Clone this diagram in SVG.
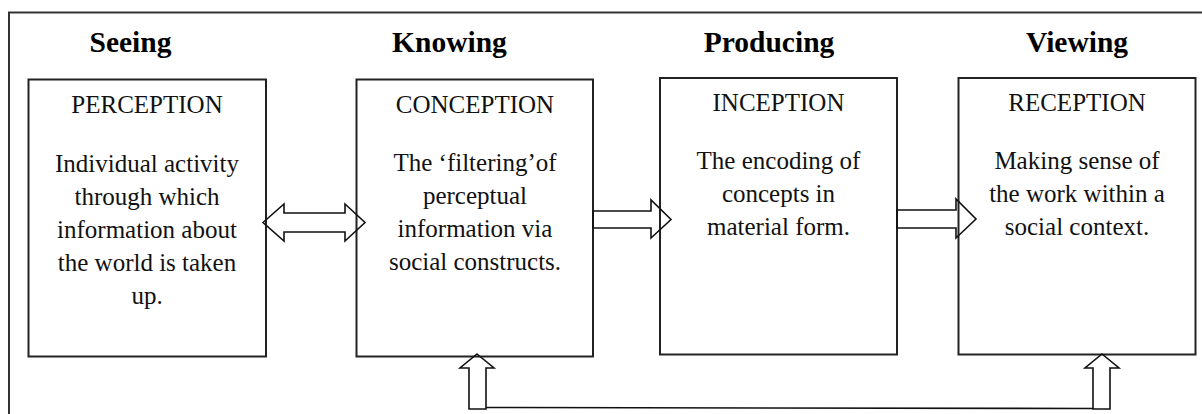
<svg xmlns="http://www.w3.org/2000/svg" width="1202" height="414" viewBox="0 0 1202 414">
<style>
.frame{fill:none;stroke:#333;stroke-width:2}
.box{fill:#fff;stroke:#222;stroke-width:2}
.arrow{fill:none;stroke:#111;stroke-width:1.6;stroke-linejoin:miter}
.line{fill:none;stroke:#111;stroke-width:1.6}
.head{font-family:"Liberation Serif","Times New Roman",serif;font-weight:bold;font-size:29.5px;fill:#000;text-anchor:middle}
.title{font-family:"Liberation Serif","Times New Roman",serif;font-size:25px;fill:#111;text-anchor:middle}
.body{font-family:"Liberation Serif","Times New Roman",serif;font-size:25px;fill:#111;text-anchor:middle}
</style>
<rect width="1202" height="414" fill="#fff"/>
<path class="frame" d="M9,414 V12.5 H1202"/>
<g id="headings">
<text class="head" x="130.5" y="52">Seeing</text>
<text class="head" x="449.5" y="52">Knowing</text>
<text class="head" x="769" y="52">Producing</text>
<text class="head" x="1077" y="52">Viewing</text>
</g>
<g id="perception">
<rect class="box" x="28.5" y="79.5" width="237.5" height="277"/>
<text class="title" x="147" y="113">PERCEPTION</text>
<text class="body" x="147" y="172">Individual activity</text>
<text class="body" x="147" y="205">through which</text>
<text class="body" x="147" y="238">information about</text>
<text class="body" x="147" y="271">the world is taken</text>
<text class="body" x="147" y="304">up.</text>
</g>
<g id="conception">
<rect class="box" x="356.5" y="79.5" width="236.5" height="277"/>
<text class="title" x="475" y="113">CONCEPTION</text>
<text class="body" x="475" y="171">The ‘filtering’of</text>
<text class="body" x="475" y="204">perceptual</text>
<text class="body" x="475" y="237">information via</text>
<text class="body" x="475" y="270">social constructs.</text>
</g>
<g id="inception">
<rect class="box" x="660" y="78" width="237" height="276.5"/>
<text class="title" x="778.5" y="111">INCEPTION</text>
<text class="body" x="778.5" y="169">The encoding of</text>
<text class="body" x="778.5" y="202">concepts in</text>
<text class="body" x="778.5" y="235">material form.</text>
</g>
<g id="reception">
<rect class="box" x="958.5" y="78" width="237" height="276.5"/>
<text class="title" x="1077" y="111">RECEPTION</text>
<text class="body" x="1077" y="169">Making sense of</text>
<text class="body" x="1077" y="202">the work within a</text>
<text class="body" x="1077" y="235">social context.</text>
</g>
<g id="connectors">
<polygon class="arrow" points="263,222.5 284,204 284,213 345,213 345,204 365,222.5 345,241 345,232 284,232 284,241"/>
<polygon class="arrow" points="593,211 651,211 651,200 671,219.5 651,238 651,228 593,228"/>
<polygon class="arrow" points="897,210 956,210 956,199 976,219 956,238 956,228 897,228"/>
<polygon class="arrow" points="477,354 494,368 486,368 486,409 469,409 469,368 460,368"/>
<polygon class="arrow" points="1102,354 1119,368 1110,368 1110,409 1093,409 1093,368 1085,368"/>
<line class="line" x1="486" y1="407.5" x2="1093" y2="408.5"/>
</g>
</svg>
